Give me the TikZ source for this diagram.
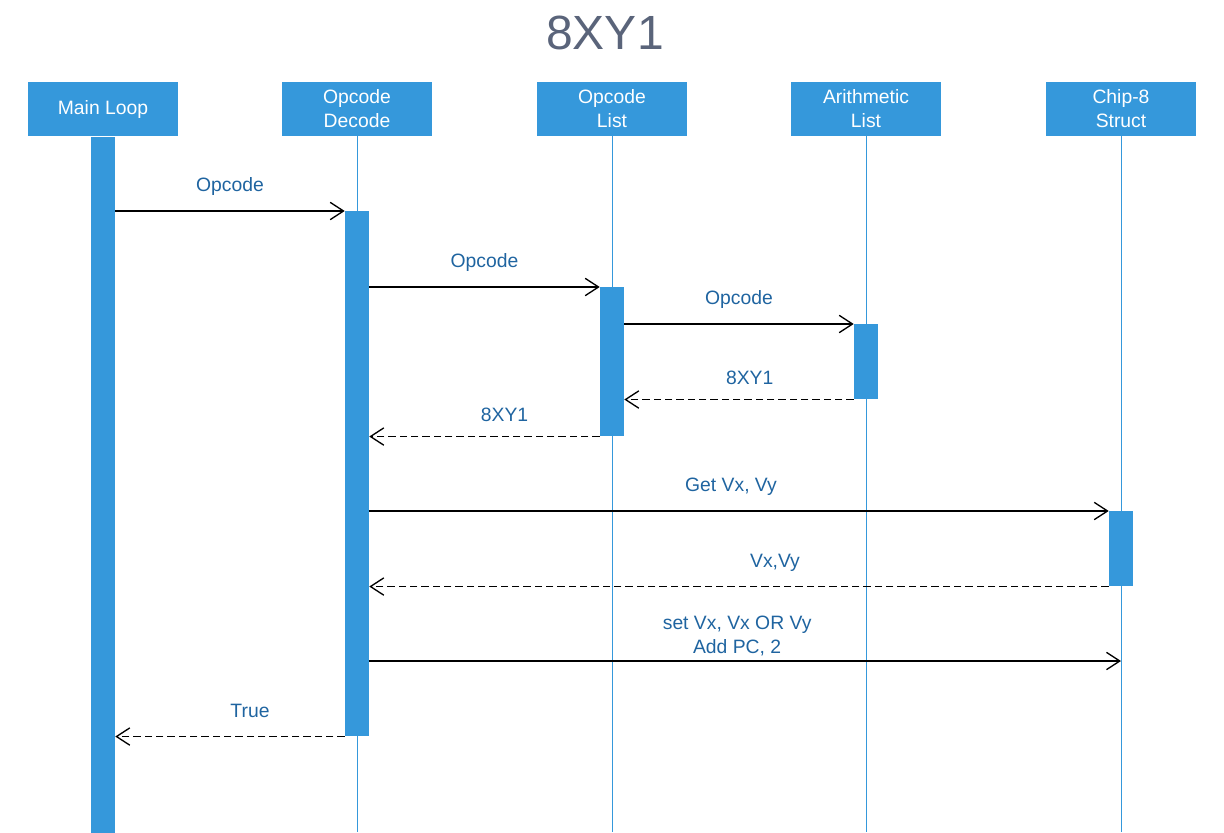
\documentclass[tikz,border=0pt]{standalone}
\usepackage{fontspec}
\setmainfont{Liberation Sans}
\usetikzlibrary{arrows.meta}
\definecolor{barblue}{RGB}{53,152,219}
\definecolor{textblue}{RGB}{31,100,160}
\definecolor{titlegray}{RGB}{90,100,122}
\tikzset{
	header/.style={fill=barblue, text=white, minimum width=112.5pt, minimum height=40.5pt, inner sep=0pt, align=center, font=\fontsize{14.5}{18}\selectfont},
	activation/.style={fill=barblue, minimum width=18pt, inner sep=0pt, anchor=north},
	lifeline/.style={draw=barblue, line width=0.6pt},
	msg/.style={-{Straight Barb[length=10pt,width=13pt]}, line width=1pt},
	reply/.style={msg, dash pattern=on 5.5pt off 3pt},
	msglabel/.style={text=textblue, font=\fontsize{14.5}{18}\selectfont, align=center}
}

\begin{document}
\begin{tikzpicture}[x=0.75pt, y=-0.75pt]
			%%%%% START %%%%%
			\useasboundingbox (0, 0) rectangle (1224, 832);
			
			\node[text=titlegray, font=\fontsize{36}{40}\selectfont] (title) at (605, 33) {8XY1};
			
			\node[header] (mainloop) at (103, 109) {Main Loop};
			\node[header] (decode) at (357, 109) {Opcode\\Decode};
			\node[header] (oplist) at (612, 109) {Opcode\\List};
			\node[header] (arith) at (866, 109) {Arithmetic\\List};
			\node[header] (chip) at (1121, 109) {Chip-8\\Struct};
			
			\coordinate (mainend) at (103, 832);
			\coordinate (decodeend) at (357, 832);
			\coordinate (oplistend) at (612, 832);
			\coordinate (arithend) at (866, 832);
			\coordinate (chipend) at (1121, 832);
			
			\draw[lifeline] (decode.south) -- (decodeend);
			\draw[lifeline] (oplist.south) -- (oplistend);
			\draw[lifeline] (arith.south) -- (arithend);
			\draw[lifeline] (chip.south) -- (chipend);
			
			\node[activation, minimum height=522pt] (mainbar) at (mainloop.south) {};
			\node[activation, minimum height=393.75pt] (decodebar) at (357, 211) {};
			\node[activation, minimum height=111.75pt] (oplistbar) at (612, 287) {};
			\node[activation, minimum height=56.25pt] (arithbar) at (866, 324) {};
			\node[activation, minimum height=56.25pt] (chipbar) at (1121, 511) {};
			
			\coordinate (setpc) at (1121, 661);
			
			\draw[msg] (mainbar.east |- decodebar.north) -- node[msglabel, above=7.5pt] {Opcode} (decodebar.north west);
			\draw[msg] (decodebar.east |- oplistbar.north) -- node[msglabel, above=7.5pt] {Opcode} (oplistbar.north west);
			\draw[msg] (oplistbar.east |- arithbar.north) -- node[msglabel, above=7.5pt] {Opcode} (arithbar.north west);
			\draw[reply] (arithbar.south west) -- node[msglabel, above=7.5pt, xshift=8pt] {8XY1} (oplistbar.east |- arithbar.south);
			\draw[reply] (oplistbar.south west) -- node[msglabel, above=7.5pt, xshift=15pt] {8XY1} (decodebar.east |- oplistbar.south);
			\draw[msg] (decodebar.east |- chipbar.north) -- node[msglabel, above=7.5pt, xshift=-6pt] {Get Vx, Vy} (chipbar.north west);
			\draw[reply] (chipbar.south west) -- node[msglabel, above=7.5pt, xshift=27pt] {Vx,Vy} (decodebar.east |- chipbar.south);
			\draw[msg] (decodebar.east |- setpc) -- node[msglabel, above=0pt, xshift=-6pt] {set Vx, Vx OR Vy\\Add PC, 2} (setpc);
			\draw[reply] (decodebar.south west) -- node[msglabel, above=10pt, xshift=15pt] {True} (mainbar.east |- decodebar.south);
			
			%%%%% END %%%%%
\end{tikzpicture}
\end{document}
